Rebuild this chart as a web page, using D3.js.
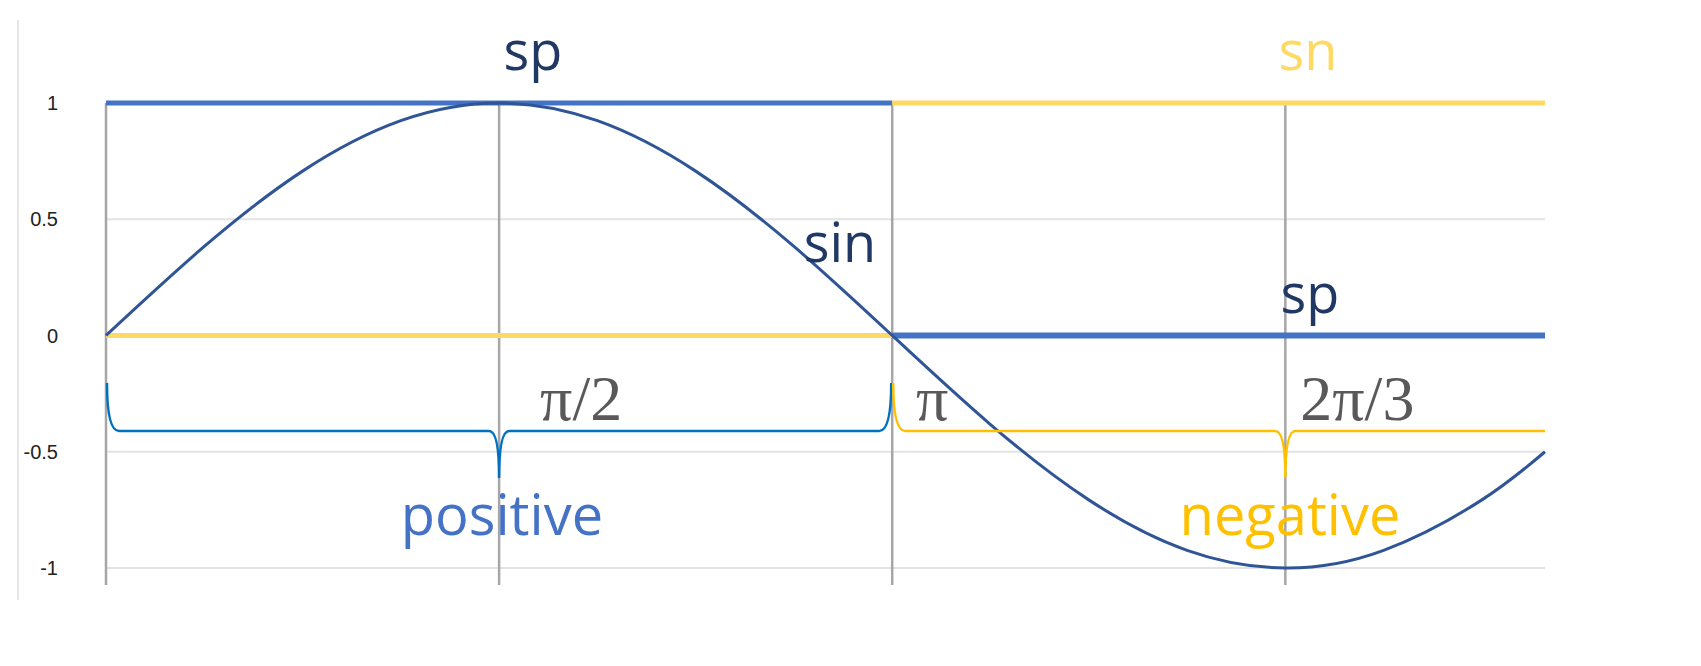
<!DOCTYPE html>
<html><head><meta charset="utf-8">
<script src="https://cdn.jsdelivr.net/npm/d3@7"></script>
<style>body{margin:0;background:#fff}</style></head>
<body><svg id="c" width="1701" height="666"></svg>
<script>
// data
const sinX = [0,0.3927,0.7854,1.1781,1.5708,1.9635,2.3562,2.7489,3.1416,3.5343,3.927,4.3197,4.7124,5.1051,5.4978,5.75];
const sinY = [0,0.383,0.707,0.924,1,0.924,0.707,0.383,0,-0.383,-0.707,-0.924,-1,-0.924,-0.707,-0.5];
const yTicks = [1,0.5,0,-0.5,-1];
const yTickLabels = ["1","0.5","0","-0.5","-1"];
const vGrid = [0,1.5708,3.1416,4.7124];
const spPos = [[0,1],[3.1416,1]];
const snPos = [[3.1416,1],[5.75,1]];
const snNeg = [[0,0],[3.1416,0]];
const spNeg = [[3.1416,0],[5.75,0]];
const xLabels = [{t:"π/2",x:1.5708},{t:"π",x:3.1416},{t:"2π/3",x:4.7124}];

const svg=d3.select("#c");
const x=d3.scaleLinear().domain([0,5.75]).range([106,1545]);
const y=d3.scaleLinear().domain([-1,1]).range([568,103]);

svg.append("line").attr("x1",18).attr("x2",18).attr("y1",20).attr("y2",600).attr("stroke","#e6e6e6").attr("stroke-width",2);
svg.selectAll(".hg").data(yTicks).join("line").attr("x1",x(0)).attr("x2",x(5.75))
 .attr("y1",d=>y(d)).attr("y2",d=>y(d)).attr("stroke","#e3e3e3").attr("stroke-width",2);
svg.selectAll(".yl").data(yTicks).join("text").attr("x",58).attr("y",d=>y(d)+7)
 .attr("text-anchor","end").attr("font-family","Liberation Sans, Arial").attr("font-size",20).attr("fill","#222")
 .text((d,i)=>yTickLabels[i]);
svg.selectAll(".vg").data(vGrid).join("line").attr("x1",d=>x(d)).attr("x2",d=>x(d))
 .attr("y1",y(1)).attr("y2",585).attr("stroke","#a6a6a6").attr("stroke-width",2.5);

const line=d3.line().x(d=>x(d[0])).y(d=>y(d[1]));
function seg(data,color,w){svg.append("path").attr("d",line(data)).attr("stroke",color).attr("stroke-width",w).attr("fill","none");}
seg(spPos,"#4472c4",5);
seg(snPos,"#ffd966",5);
seg(snNeg,"#ffd966",5);
seg(spNeg,"#4472c4",6);

svg.append("path").attr("d",d3.line().x((d,i)=>x(sinX[i])).y(d=>y(d)).curve(d3.curveNatural)(sinY))
 .attr("stroke","#2f5597").attr("stroke-width",3).attr("fill","none");

function brace(x0,x1,color){
  const a=x(x0)+1,b=x(x1)-1,t=383,h=431,tip=478;
  const mid=x(x0+1.5708);
  let d=`M${a},${t} Q${a},${h} ${a+12},${h} L${mid-10},${h} Q${mid},${h} ${mid},${tip} Q${mid},${h} ${mid+10},${h}`;
  if(x1<5.7) d+=` L${b-12},${h} Q${b},${h} ${b},${t}`; else d+=` L${x(x1)},${h}`;
  svg.append("path").attr("d",d).attr("stroke",color).attr("stroke-width",2.5).attr("fill","none");
}
brace(0,3.1416,"#0070c0");
brace(3.1416,5.75,"#ffc000");

function txt(t,px,py,size,color,fam,anchor){svg.append("text").attr("x",px).attr("y",py).attr("font-size",size)
 .attr("fill",color).attr("font-family",fam||"Open Sans, Noto Sans, sans-serif").attr("text-anchor",anchor||"middle").text(t);}
txt("sp",533,70,54,"#203864");
txt("sn",1308,70,54,"#ffd966");
txt("sin",840,262,54,"#203864");
txt("sp",1310,313,54,"#203864");
txt("positive",502,535,56,"#4472c4");
txt("negative",1290,535,56,"#ffc000");
xLabels.forEach((l,i)=>{
  const off=[82,40,72][i];
  txt(l.t,x(l.x)+off,420,64,"#595959","Liberation Serif, DejaVu Serif, serif");
});
</script></body></html>
